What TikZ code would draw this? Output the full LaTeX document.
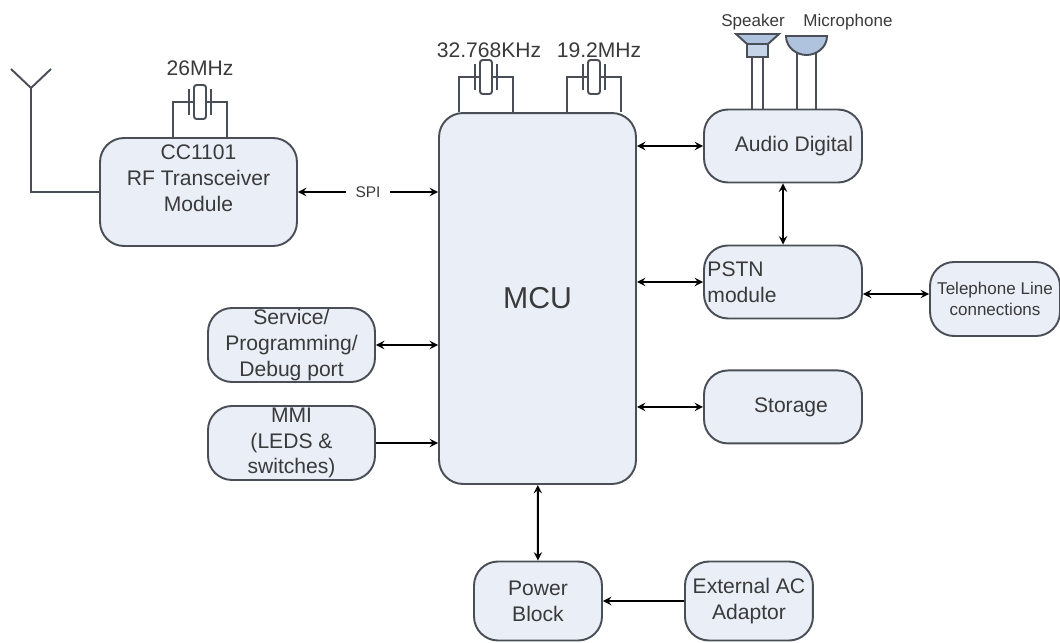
\documentclass[tikz,border=0pt]{standalone}
\usepackage{fontspec}
\setmainfont{Liberation Sans}
\definecolor{boxfill}{HTML}{E9EEF7}
\definecolor{boxline}{HTML}{4A4F57}
\definecolor{partfill}{HTML}{AFC3DF}
\definecolor{inktext}{HTML}{3A3A3A}
\tikzstyle{block} = [rectangle, draw=boxline, fill=boxfill, line width=1.1pt, text=inktext, align=center, rounded corners=0.48cm, font=\fontsize{12}{14.7}\selectfont, inner sep=0pt]
\tikzstyle{wide} = [block, minimum width=3.16cm, minimum height=1.46cm]
\tikzstyle{port} = [block, minimum width=3.34cm, minimum height=1.48cm]
\tikzstyle{small} = [block, minimum width=2.56cm, minimum height=1.58cm]
\tikzstyle{wire} = [draw=boxline, line width=1.1pt]
\tikzstyle{link} = [wire, >=stealth, black]
\tikzstyle{annot} = [text=inktext, font=\fontsize{12}{14.7}\selectfont, inner sep=0pt]
\tikzstyle{minor} = [text=inktext, font=\fontsize{9.7}{11.9}\selectfont, inner sep=0pt]
\tikzstyle{xtalbody} = [rectangle, draw=boxline, fill=white, line width=1.1pt, rounded corners=1.5pt, minimum width=0.24cm, minimum height=0.68cm, inner sep=0pt]
% crystal symbol: name, x, y, box below it
\newcommand{\xtal}[4]{%
  \node[xtalbody] (#1) at (#2,#3) {};
  \coordinate (#1-pl) at (#2-11,#3);
  \coordinate (#1-pr) at (#2+11,#3);
  \coordinate (#1-l) at (#2-27,#3);
  \coordinate (#1-r) at (#2+27,#3);
  \draw[wire] ([yshift=0.26cm]#1-pl) -- ([yshift=-0.26cm]#1-pl);
  \draw[wire] ([yshift=0.26cm]#1-pr) -- ([yshift=-0.26cm]#1-pr);
  \draw[wire] (#1.west) -- (#1-l) -- (#1-l |- #4.north);
  \draw[wire] (#1.east) -- (#1-r) -- (#1-r |- #4.north);
}
\begin{document}
\begin{tikzpicture}[x=0.02cm, y=-0.02cm]
\useasboundingbox (0,0) rectangle (1060,642);
  \node[block, minimum width=3.94cm, minimum height=2.16cm] (rf) at (198.5,192) {CC1101\\RF Transceiver\\Module\\[0.04cm]};
  \node[block, minimum width=3.94cm, minimum height=7.42cm, font=\fontsize{17.2}{20}\selectfont] (mcu) at (537.5,298.5) {MCU};
  \node[wide] (audio) at (783,146) {\hspace*{0.44cm}Audio Digital};
  \node[wide, align=left, below of=audio, node distance=2.72cm] (pstn) {PSTN\hspace*{1.64cm}\\module\hspace*{1.64cm}};
  \node[wide, below of=pstn, node distance=2.5cm] (storage) {\hspace*{0.32cm}Storage};
  \node[block, minimum width=2.6cm, minimum height=1.48cm, font=\fontsize{9.7}{11.9}\selectfont] (phone) at (995,299) {Telephone Line\\connections};
  \node[port] (service) at (291.5,345) {Service/\\Programming/\\Debug port};
  \node[port, below of=service, node distance=1.96cm] (mmi) {MMI\\(LEDS \&\\switches)};
  \node[small] (power) at (538,601) {Power\\Block};
  \node[small, right of=power, node distance=4.22cm] (adaptor) {External AC\\Adaptor};

  \node[annot] (label26) at (200,68) {26MHz};
  \node[annot] (label32) at (489,50) {32.768KHz};
  \node[annot] (label19) at (599,50) {19.2MHz};
  \node[minor] (labelspk) at (753,22) {Speaker};
  \node[minor] (labelmic) at (848,22) {Microphone};

  \xtal{xtalrf}{200}{102}{rf}
  \xtal{xtalslow}{486}{77}{mcu}
  \xtal{xtalfast}{594}{77}{mcu}

% antenna
  \coordinate (antfoot) at (31,88);
  \coordinate (antleft) at (11,69);
  \coordinate (antright) at (51,69);
  \draw[wire] (antleft) -- (antfoot) -- (antright);
  \draw[wire] (antfoot) |- (rf.west);

% speaker and microphone
  \coordinate (spkleft) at (752,57);
  \coordinate (spkright) at (763,57);
  \coordinate (micleft) at (797,52);
  \coordinate (micright) at (816,52);
  \draw[wire] (spkleft) -- (spkleft |- audio.north);
  \draw[wire] (spkright) -- (spkright |- audio.north);
  \draw[wire] (micleft) -- (micleft |- audio.north);
  \draw[wire] (micright) -- (micright |- audio.north);
  \draw[wire, fill=partfill] (736,34) -- (779,34) -- (768,44) -- (747,44) -- cycle;
  \draw[wire, fill=partfill!70!white] (747,44) rectangle (768,57);
  \draw[wire, fill=partfill] (786,36) -- (827,36) .. controls (827,48) and (816,55) .. (806.5,55) .. controls (797,55) and (786,48) .. (786,36) -- cycle;

% links to the MCU
  \draw[link, <->] (rf) -- (rf -| mcu.west) node[midway, fill=white, minor, font=\fontsize{8.8}{10}\selectfont, inner xsep=0.2cm, inner ysep=1pt] (spi) {SPI};
  \draw[link, <->] (service) -- (service -| mcu.west);
  \draw[link, ->] (mmi) -- (mmi -| mcu.west);
  \draw[link, <->] (audio) -- (audio -| mcu.east);
  \draw[link, <->] (pstn) -- (pstn -| mcu.east);
  \draw[link, <->] (storage) -- (storage -| mcu.east);
  \draw[link, <->] (audio) -- (pstn);
  \draw[link, <->] ([yshift=1mm]phone.west) -- ([yshift=1mm]phone.west -| pstn.east);
  \draw[link, <->] (mcu) -- (power);
  \draw[link, ->] (adaptor) -- (power);
\end{tikzpicture}
\end{document}
